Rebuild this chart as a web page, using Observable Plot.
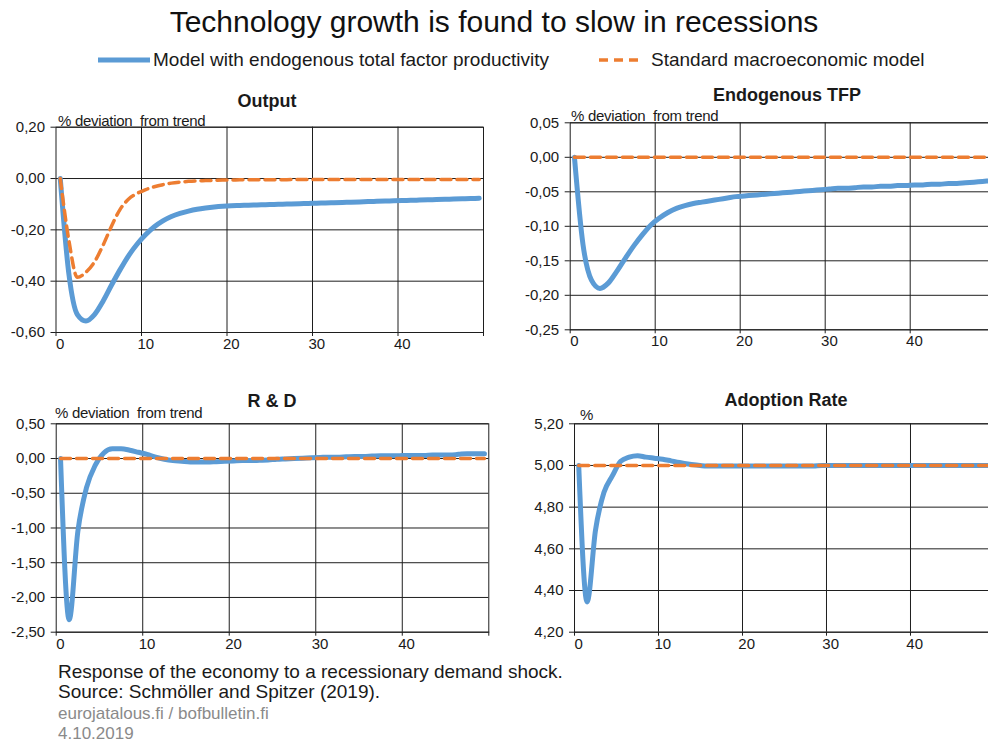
<!DOCTYPE html>
<html><head><meta charset="utf-8">
<script src="https://cdn.jsdelivr.net/npm/d3@7"></script>
<script src="https://cdn.jsdelivr.net/npm/@observablehq/plot@0.6"></script>
<style>
html,body{margin:0;padding:0;background:#fff;overflow:hidden;}
#root{position:relative;width:988px;height:742px;overflow:hidden;font-family:"Liberation Sans",Arial,sans-serif;color:#1a1a1a;}
.abs{position:absolute;white-space:nowrap;line-height:1;}
.ptitle{font-weight:bold;font-size:18px;transform:translateX(-50%);}
.unit{font-size:15px;letter-spacing:-0.3px;}
.panel{position:absolute;}
</style>
</head><body>
<div id="root"></div>
<script>
// ---- data ----
const periods = d3.range(0, 50); // quarters 0..49

const seriesNames = ["Model with endogenous total factor productivity", "Standard macroeconomic model"];
const panelTitles = ["Output", "Endogenous  TFP", "R & D", "Adoption Rate"];
const unitLabels = ["% deviation  from trend", "% deviation  from trend", "% deviation  from trend", "%"];

const outputTicks = [-0.6, -0.4, -0.2, 0, 0.2];
const tfpTicks = [-0.25, -0.2, -0.15, -0.1, -0.05, 0, 0.05];
const rdTicks = [-2.5, -2, -1.5, -1, -0.5, 0, 0.5];
const adoptionTicks = [4.2, 4.4, 4.6, 4.8, 5.0, 5.2];
const xLabelTicks = [0, 10, 20, 30, 40];

const outputModel = [0, -0.37, -0.53, -0.555, -0.53, -0.478, -0.415, -0.355, -0.3, -0.255,
  -0.218, -0.188, -0.165, -0.148, -0.136, -0.127, -0.12, -0.115, -0.111, -0.108,
  -0.106, -0.105, -0.104, -0.103, -0.102, -0.101, -0.1, -0.099, -0.098, -0.097,
  -0.096, -0.095, -0.094, -0.093, -0.092, -0.091, -0.09, -0.089, -0.088, -0.087,
  -0.086, -0.085, -0.084, -0.083, -0.082, -0.081, -0.08, -0.079, -0.078, -0.077];
const outputStandard = [0, -0.24, -0.385, -0.365, -0.325, -0.26, -0.185, -0.12, -0.08, -0.058,
  -0.043, -0.032, -0.024, -0.018, -0.014, -0.011, -0.009, -0.008, -0.007, -0.006,
  -0.006, -0.005, -0.005, -0.005, -0.005, -0.005, -0.005, -0.004, -0.004, -0.004,
  -0.004, -0.004, -0.004, -0.004, -0.004, -0.004, -0.004, -0.004, -0.004, -0.004,
  -0.004, -0.004, -0.004, -0.004, -0.004, -0.004, -0.004, -0.004, -0.004, -0.004];

const tfpModel = [0, -0.126, -0.178, -0.19, -0.182, -0.165, -0.146, -0.128, -0.112, -0.098,
  -0.088, -0.08, -0.074, -0.07, -0.067, -0.065, -0.063, -0.061, -0.059, -0.057,
  -0.056, -0.055, -0.054, -0.053, -0.052, -0.051, -0.05, -0.049, -0.048, -0.047,
  -0.046, -0.045, -0.045, -0.044, -0.043, -0.043, -0.042, -0.042, -0.041, -0.041,
  -0.04, -0.04, -0.039, -0.039, -0.038, -0.038, -0.037, -0.036, -0.035, -0.034];
const tfpStandard = [0, 0, 0, 0, 0, 0, 0, 0, 0, 0, 0, 0, 0, 0, 0, 0, 0, 0, 0, 0, 0, 0, 0, 0, 0,
  0, 0, 0, 0, 0, 0, 0, 0, 0, 0, 0, 0, 0, 0, 0, 0, 0, 0, 0, 0, 0, 0, 0, 0, 0];

const rdModel = [0, -2.32, -1.05, -0.42, -0.1, 0.08, 0.14, 0.14, 0.12, 0.09,
  0.06, 0.02, -0.01, -0.03, -0.04, -0.05, -0.05, -0.05, -0.045, -0.04,
  -0.035, -0.03, -0.03, -0.025, -0.02, -0.01, -0.005, 0, 0.005, 0.01,
  0.015, 0.02, 0.02, 0.025, 0.03, 0.03, 0.035, 0.04, 0.04, 0.04,
  0.045, 0.045, 0.045, 0.05, 0.05, 0.05, 0.06, 0.07, 0.07, 0.07];
const rdStandard = [0, 0, 0, 0, 0, 0, 0, 0, 0, 0, 0, 0, 0, 0, 0, 0, 0, 0, 0, 0, 0, 0, 0, 0, 0,
  0, 0, 0, 0, 0, 0, 0, 0, 0, 0, 0, 0, 0, 0, 0, 0, 0, 0, 0, 0, 0, 0, 0, 0, 0];

const adoptionModel = [5.0, 4.345, 4.69, 4.87, 4.95, 5.02, 5.04, 5.047, 5.04, 5.035,
  5.03, 5.022, 5.014, 5.007, 5.002, 4.998, 4.997, 4.997, 4.997, 4.997,
  4.997, 4.997, 4.997, 4.997, 4.997, 4.997, 4.997, 4.997, 4.998, 5.0,
  5.0, 5.0, 5.0, 5.0, 5.0, 5.0, 5.0, 5.0, 5.0, 5.0,
  5.0, 5.0, 5.0, 5.0, 5.0, 5.0, 5.0, 5.0, 5.0, 5.0];
const adoptionStandard = [5, 5, 5, 5, 5, 5, 5, 5, 5, 5, 5, 5, 5, 5, 5, 5, 5, 5, 5, 5, 5, 5, 5, 5, 5,
  5, 5, 5, 5, 5, 5, 5, 5, 5, 5, 5, 5, 5, 5, 5, 5, 5, 5, 5, 5, 5, 5, 5, 5, 5];

const titleText = "Technology growth is found to slow in recessions";
const captionLines = ["Response of the economy to a recessionary demand shock.", "Source: Schmöller and Spitzer (2019)."];
const creditLines = ["eurojatalous.fi / bofbulletin.fi", "4.10.2019"];

// ---- styles ----
const BLUE = "#5B9BD5", ORANGE = "#ED7D31", GRID = "#1e1e1e";
const fmt = d => (d < -1e-9 ? "-" : "") + Math.abs(d).toFixed(2).replace(".", ",");

const root = document.getElementById("root");
function addText(txt, x, y, cls, extra) {
  const el = document.createElement("div");
  el.className = "abs " + (cls || "");
  el.textContent = txt;
  el.style.left = x + "px"; el.style.top = y + "px";
  if (extra) Object.assign(el.style, extra);
  root.appendChild(el);
  return el;
}

const panels = [
  {model: outputModel, standard: outputStandard, ticks: outputTicks, domain: [-0.6, 0.2],
   left: 0, top: 110, width: 494, height: 247, ml: 55.5, mr: 11, mt: 16.7, mb: 25,
   title: [267, 92], unit: [58, 113]},
  {model: tfpModel, standard: tfpStandard, ticks: tfpTicks, domain: [-0.25, 0.05],
   left: 494, top: 110, width: 501, height: 244.3, ml: 75.7, mr: 0.3, mt: 12.3, mb: 25,
   title: [787, 86], unit: [571, 108]},
  {model: rdModel, standard: rdStandard, ticks: rdTicks, domain: [-2.5, 0.5],
   left: 0, top: 410, width: 494, height: 246.7, ml: 55.7, mr: 5.7, mt: 13.3, mb: 25,
   title: [272, 392], unit: [55, 405]},
  {model: adoptionModel, standard: adoptionStandard, ticks: adoptionTicks, domain: [4.2, 5.2],
   left: 494, top: 410, width: 501, height: 246.7, ml: 80, mr: 1, mt: 13.3, mb: 25,
   title: [786, 391], unit: [580, 407]}
];

panels.forEach((p, k) => {
  const rows = periods.map((t, i) => ({t, model: p.model[i], standard: p.standard[i]}));
  const chart = Plot.plot({
    width: p.width, height: p.height,
    marginLeft: p.ml, marginRight: p.mr, marginTop: p.mt, marginBottom: p.mb,
    style: {fontFamily: '"Liberation Sans", Arial, sans-serif', fontSize: "15px", color: "#1a1a1a", background: "transparent", overflow: "visible"},
    x: {domain: [0, 50], label: null},
    y: {domain: p.domain, label: null},
    marks: [
      Plot.ruleY(p.ticks, {stroke: GRID, strokeWidth: 1}),
      Plot.ruleX([10, 20, 30, 40], {stroke: GRID, strokeWidth: 1}),
      Plot.frame({stroke: GRID, strokeWidth: 1}),
      Plot.axisY(p.ticks, {tickSize: 5, tickPadding: 6, tickFormat: fmt, label: null, stroke: GRID}),
      Plot.axisX([0, 10, 20, 30, 40, 50], {tickSize: 4, tickFormat: () => "", label: null, stroke: GRID}),
      Plot.axisX(xLabelTicks.map(v => v + 0.5), {tickSize: 0, tickPadding: 6, tickFormat: d => String(Math.round(d - 0.5)), label: null}),
      Plot.line(rows, {x: d => d.t + 0.5, y: "model", stroke: BLUE, strokeWidth: 5, curve: "monotone-x"}),
      Plot.line(rows, {x: d => d.t + 0.5, y: "standard", stroke: ORANGE, strokeWidth: 3.5, strokeDasharray: "10,6", curve: "monotone-x"})
    ]
  });
  chart.classList.add("panel");
  chart.style.left = p.left + "px";
  chart.style.top = p.top + "px";
  chart.style.maxWidth = "none";
  root.appendChild(chart);
  addText(panelTitles[k], p.title[0], p.title[1], "ptitle");
  addText(unitLabels[k], p.unit[0], p.unit[1], "unit", {whiteSpace: "pre"});
});

// title
addText(titleText, 494, 7, "", {fontSize: "30px", transform: "translateX(-50%)", color: "#111"});

// legend
const leg = document.createElementNS("http://www.w3.org/2000/svg", "svg");
leg.setAttribute("width", 988); leg.setAttribute("height", 30);
leg.style.position = "absolute"; leg.style.left = "0px"; leg.style.top = "45px";
leg.innerHTML = `<line x1="98" x2="150" y1="15" y2="15" stroke="${BLUE}" stroke-width="5"/>
<line x1="599" x2="643" y1="15" y2="15" stroke="${ORANGE}" stroke-width="3.5" stroke-dasharray="9,6"/>`;
root.appendChild(leg);
addText(seriesNames[0], 153, 50, "", {fontSize: "19px"});
addText(seriesNames[1], 651, 50, "", {fontSize: "19px"});

// caption
addText(captionLines[0], 58, 662, "", {fontSize: "19px"});
addText(captionLines[1], 58, 682, "", {fontSize: "19px"});
addText(creditLines[0], 58, 705, "", {fontSize: "17px", color: "#8a8a8a"});
addText(creditLines[1], 58, 725, "", {fontSize: "17px", color: "#8a8a8a"});
</script>
</body></html>
